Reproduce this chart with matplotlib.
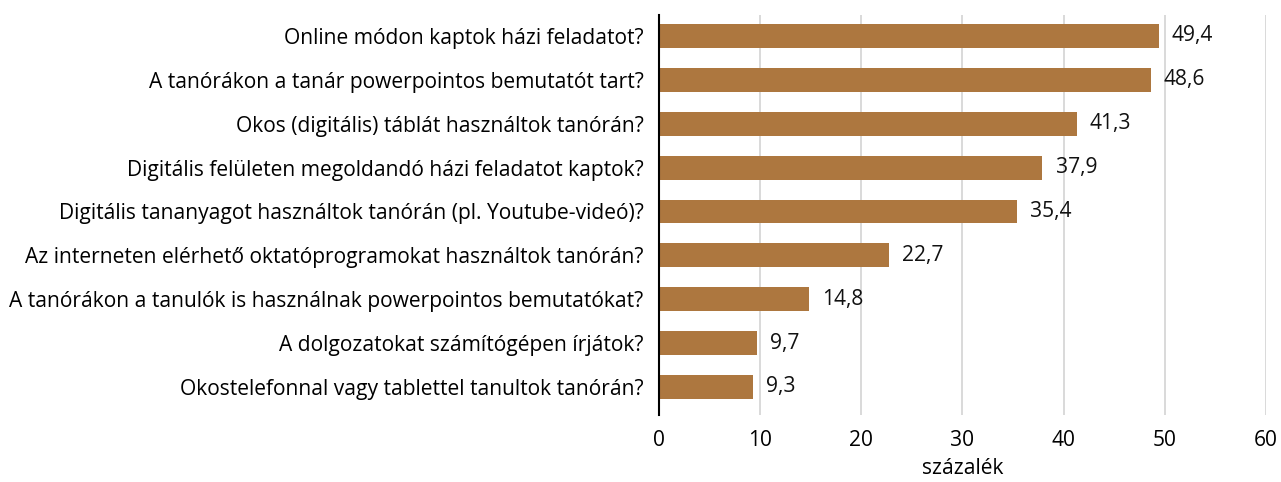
import matplotlib
matplotlib.use("Agg")
from matplotlib import pyplot as plt

plt.rcParams['font.family'] = ['Open Sans', 'DejaVu Sans']

questions = [
    "Online módon kaptok házi feladatot?",
    "A tanórákon a tanár powerpointos bemutatót tart?",
    "Okos (digitális) táblát használtok tanórán?",
    "Digitális felületen megoldandó házi feladatot kaptok?",
    "Digitális tananyagot használtok tanórán (pl. Youtube-videó)?",
    "Az interneten elérhető oktatóprogramokat használtok tanórán?",
    "A tanórákon a tanulók is használnak powerpointos bemutatókat?",
    "A dolgozatokat számítógépen írjátok?",
    "Okostelefonnal vagy tablettel tanultok tanórán?",
]
percent = [49.4, 48.6, 41.3, 37.9, 35.4, 22.7, 14.8, 9.7, 9.3]
xticks = [0, 10, 20, 30, 40, 50, 60]

FS = 15.1

fig = plt.figure(figsize=(12.81, 4.82), dpi=100)
ax = fig.add_axes([0.5144, 0.139, 0.9883 - 0.5144, 0.969 - 0.139])

pos = list(range(len(questions)))
ax.barh(pos, percent, height=0.545, color='#AD773F', zorder=3)
for y, v in zip(pos, percent):
    ax.text(v + 1.3, y, f"{v:.1f}".replace('.', ','), va='center', ha='left',
            fontsize=FS, color='#111111')

ax.set_xlim(0, 60)
ax.set_ylim(8.64, -0.48)
ax.set_xticks(xticks)
ax.set_xticklabels([str(t) for t in xticks], fontsize=FS)
ax.set_yticks(pos)
ax.set_yticklabels(questions, fontsize=FS)
ax.tick_params(axis='both', length=0)
ax.tick_params(axis='y', pad=11)
ax.tick_params(axis='x', pad=11)
ax.set_xlabel("százalék", fontsize=FS, labelpad=5)

ax.grid(axis='x', color='#D0D0D0', linewidth=1.1, zorder=0)
for s in ['top', 'right', 'bottom']:
    ax.spines[s].set_visible(False)
ax.spines['left'].set_linewidth(1.5)
ax.spines['left'].set_color('black')
ax.spines['left'].set_zorder(4)

fig.savefig("out.png", dpi=100)
